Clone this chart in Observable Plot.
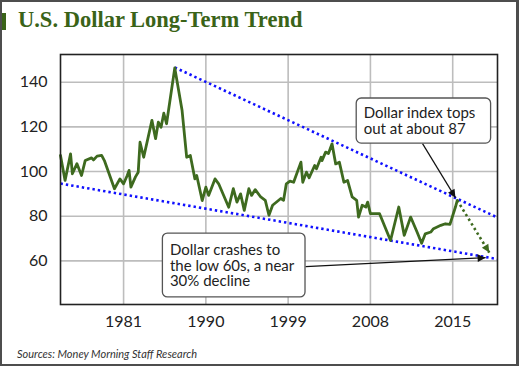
<!DOCTYPE html>
<html>
<head>
<meta charset="utf-8">
<script src="https://cdn.jsdelivr.net/npm/d3@7"></script>
<script src="https://cdn.jsdelivr.net/npm/@observablehq/plot@0.6"></script>
<style>
  html, body { margin: 0; padding: 0; background: #fff; }
  #page { position: relative; width: 520px; height: 367px; overflow: hidden; }
  #border { position: absolute; left: 0; top: 0; width: 519px; height: 366px; box-sizing: border-box; border: 2px solid #4d4d4d; border-right-width: 3px; }
  #bar { position: absolute; left: 2px; top: 13px; width: 4px; height: 17px; background: #3a6318; }
  #title { position: absolute; left: 18px; top: 7px; font-family: "Liberation Serif", serif; font-weight: bold; font-size: 22.5px; color: #3a6318; white-space: nowrap; }
  #chart { position: absolute; left: 0; top: 40px; }
  #source { position: absolute; left: 17px; top: 347px; font-family: Lato, sans-serif; font-style: italic; font-size: 11px; color: #333; white-space: nowrap; }
</style>
</head>
<body>
<div id="page">
  <div id="border"></div>
  <div id="bar"></div>
  <div id="title">U.S. Dollar Long-Term Trend</div>
  <div id="chart"></div>
  <div id="source">Sources: Money Morning Staff Research</div>
</div>
<script>
// Dollar index (trade-weighted), positions (x in chart years)
const years = [1974.1,1974.6,1975.2,1975.4,1975.9,1976.4,1976.8,1977.5,1977.7,1978.1,1978.6,1978.9,1980.0,1980.6,1981.0,1981.4,1981.6,1981.8,1982.3,1982.6,1982.8,1983.2,1984.1,1984.5,1984.8,1985.1,1985.4,1985.7,1986.6,1987.4,1987.9,1988.3,1988.8,1989.0,1989.6,1990.0,1990.3,1991.0,1991.4,1992.5,1993.0,1993.4,1993.8,1994.2,1994.7,1995.0,1995.4,1996.0,1996.5,1996.9,1997.3,1998.2,1998.5,1998.8,1999.2,1999.6,2000.4,2000.6,2001.0,2001.3,2001.9,2002.1,2002.6,2002.7,2003.1,2003.4,2003.8,2004.2,2004.6,2005.1,2005.5,2006.0,2006.5,2006.7,2007.1,2007.5,2007.7,2008.0,2009.0,2010.2,2011.1,2011.7,2012.4,2013.1,2013.6,2014.0,2014.6,2014.9,2015.7,2016.2,2016.7,2017.3,2017.5];
const values = [107.2,96.0,107.9,99.0,103.5,98.2,104.9,106.1,105.2,106.9,107.2,104.9,92.3,96.7,94.5,98.2,100.5,93.0,97.6,99.7,113.1,106.4,122.9,114.7,122.1,119.8,126.1,121.4,146.4,127.3,106.4,107.2,96.7,98.2,87.0,93.0,89.3,96.7,94.5,84.0,92.3,86.3,90.0,82.6,92.3,89.3,91.9,88.6,87.1,80.4,84.9,87.9,87.1,94.5,95.7,95.2,104.2,95.2,99.7,97.2,102.7,101.2,106.4,104.9,108.7,108.0,112.4,103.4,104.2,95.2,96.0,88.6,87.1,79.6,84.9,84.1,86.3,81.1,81.1,69.1,84.1,71.4,79.6,72.9,67.9,72.1,72.9,74.4,75.9,76.6,76.3,84.1,87.1];

// trend lines (start / end)
const upperTrendX = [1986.6, 2021.9];
const upperTrendY = [146.6, 79.4];
const lowerTrendX = [1974.1, 2021.9];
const lowerTrendY = [94.6, 60.8];

// projected crash arrow
const crashX = [2017.5, 2021.0];
const crashY = [87.1, 63.7];

// axis ticks
const xTicks = [1981, 1990, 1999, 2008, 2017];
const xTickLabels = ["1981", "1990", "1999", "2008", "2015"];
const yTicks = [60, 80, 100, 120, 140];

// annotations
const noteText = ["Dollar index tops\nout at about 87", "Dollar crashes to\nthe low 60s, a near\n30% decline"];
const noteX1 = [2006.5, 1985.3];
const noteX2 = [2021.2, 2000.9];
const noteY1 = [112.5, 43.6];
const noteY2 = [132.7, 72.2];
const pointerX1 = [2013.7, 2000.9];
const pointerY1 = [112.5, 57.4];
const pointerX2 = [2017.3, 2020.6];
const pointerY2 = [88.3, 61.4];

const series = years.map((y, i) => ({year: y, value: values[i]}));
const upper = upperTrendX.map((x, i) => ({x, y: upperTrendY[i]}));
const lower = lowerTrendX.map((x, i) => ({x, y: lowerTrendY[i]}));
const notes = noteText.map((t, i) => ({text: t, x1: noteX1[i], x2: noteX2[i], y1: noteY1[i], y2: noteY2[i]}));
const pointers = pointerX1.map((x, i) => ({x1: x, y1: pointerY1[i], x2: pointerX2[i], y2: pointerY2[i]}));
const crash = [{x1: crashX[0], y1: crashY[0], x2: crashX[1], y2: crashY[1]}];

function triangle(color, context) {
  const doc = (context && context.document) || document;
  const ns = "http://www.w3.org/2000/svg";
  const m = doc.createElementNS(ns, "marker");
  m.setAttribute("viewBox", "-9 -5 10 10");
  m.setAttribute("markerWidth", 10);
  m.setAttribute("markerHeight", 10);
  m.setAttribute("markerUnits", "userSpaceOnUse");
  m.setAttribute("orient", "auto");
  m.setAttribute("refX", 0);
  m.setAttribute("refY", 0);
  const p = doc.createElementNS(ns, "path");
  p.setAttribute("d", "M-8,-3.8L0,0L-8,3.8Z");
  p.setAttribute("fill", color);
  p.setAttribute("stroke", "none");
  m.appendChild(p);
  return m;
}

const green = "#3e6a1f";
const blue = "#1010ff";

const chart = Plot.plot({
  width: 520,
  height: 300,
  marginTop: 14,
  marginBottom: 36,
  marginLeft: 60,
  marginRight: 23,
  style: {fontFamily: "Lato, sans-serif", fontSize: "16px", color: "#222", background: "transparent"},
  x: {domain: [1974.1, 2021.9], label: null},
  y: {domain: [40.45, 152.4], label: null},
  marks: [
    Plot.ruleX(xTicks, {stroke: "#bdbdbd", strokeWidth: 1.6}),
    Plot.ruleY(yTicks, {stroke: "#bdbdbd", strokeWidth: 1.6}),
    Plot.axisX({ticks: xTicks, tickFormat: d => xTickLabels[xTicks.indexOf(d)], tickSize: 0, tickPadding: 11, label: null}),
    Plot.axisY({ticks: yTicks, tickSize: 0, tickPadding: 13, label: null}),
    Plot.line(upper, {x: "x", y: "y", stroke: blue, strokeWidth: 2.6, strokeDasharray: "2.4,3", strokeLinecap: "butt"}),
    Plot.line(lower, {x: "x", y: "y", stroke: blue, strokeWidth: 2.6, strokeDasharray: "2.4,3", strokeLinecap: "butt"}),
    Plot.line(series, {x: "year", y: "value", stroke: green, strokeWidth: 2.8, strokeLinejoin: "round"}),
    Plot.link(crash, {x1: "x1", y1: "y1", x2: "x2", y2: "y2", stroke: green, strokeWidth: 2.6, strokeDasharray: "2.4,3", markerEnd: triangle}),
    Plot.link(pointers, {x1: "x1", y1: "y1", x2: "x2", y2: "y2", stroke: "#111", strokeWidth: 1.2, markerEnd: triangle}),
    Plot.rect(notes, {x1: "x1", x2: "x2", y1: "y1", y2: "y2", fill: "white", stroke: "#555", strokeWidth: 1.3, rx: 5, inset: 0}),
    Plot.text(notes, {x: "x1", y: d => (d.y1 + d.y2) / 2, text: "text", dx: 7, textAnchor: "start", lineAnchor: "middle", lineHeight: 1.04, fontSize: 15, fill: "#222"}),
    Plot.frame({stroke: "#222", strokeWidth: 1.6})
  ]
});
document.getElementById("chart").appendChild(chart);
</script>
</body>
</html>
